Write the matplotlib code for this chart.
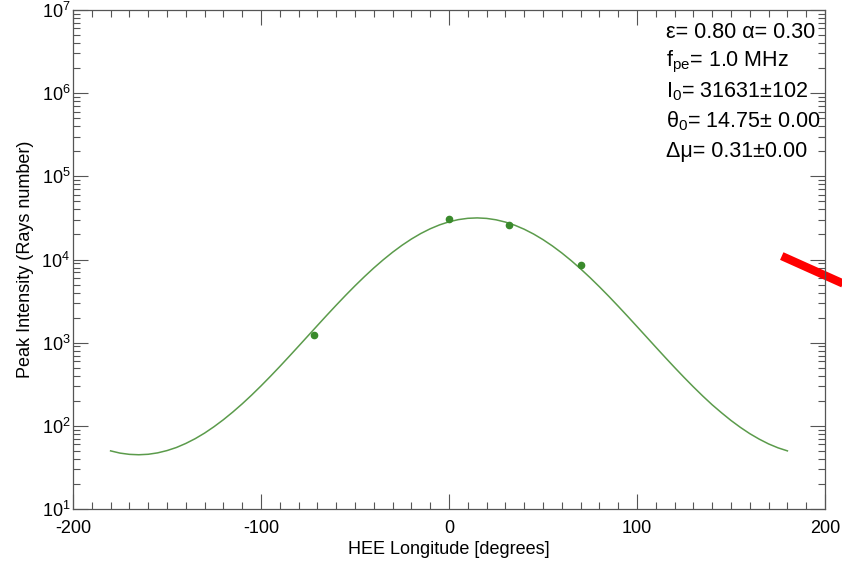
import matplotlib
matplotlib.use("Agg")
import numpy as np
from matplotlib import pyplot as plt
from matplotlib.ticker import MultipleLocator, LogLocator, NullFormatter

plt.rcParams['font.family'] = ['Liberation Sans', 'DejaVu Sans']
plt.rcParams['mathtext.fontset'] = 'custom'
plt.rcParams['mathtext.rm'] = 'Liberation Sans'
plt.rcParams['mathtext.it'] = 'Liberation Sans:italic'
plt.rcParams['mathtext.bf'] = 'Liberation Sans:bold'
plt.rcParams['axes.unicode_minus'] = False

# measured peak intensities
lon_obs = [-72, 0, 32, 70]
peak_obs = [1230, 30500, 25800, 8550]

# fitted curve, every 5 degrees
lon_fit = np.arange(-180, 181, 5)
peak_fit = [50.0, 47.0, 45.4, 44.9, 45.5, 47.3, 50.4, 54.9, 61.4, 70.1,
            81.8, 97.6, 118.5, 146.5, 183.8, 234.1, 301.9, 393.5, 516.9, 683.9,
            907.8, 1208, 1608, 2135, 2822, 3707, 4826, 6215, 7908, 9911,
            12229, 14823, 17625, 20533, 23407, 26083, 28392, 30168, 31277, 31630,
            31198, 30019, 28182, 25828, 23122, 20241, 17337, 14553, 11985, 9694,
            7721, 6063, 4701, 3609, 2745, 2076, 1563, 1175, 883, 665,
            503, 383, 294, 228, 179, 143.3, 116, 95.8, 80.5, 69.2,
            60.6, 54.4, 50.0]

# red pointer at the right edge (partly off the plot)
pointer_x = [177, 215]
pointer_y = [11000, 4530]

fit_text = ["ε= 0.80 α= 0.30",
            r"f$_{\rm pe}$= 1.0 MHz",
            r"I$_{\rm 0}$= 31631±102",
            r"θ$_{\rm 0}$= 14.75± 0.00",
            "Δμ= 0.31±0.00"]

fig = plt.figure(figsize=(8.42, 5.62), dpi=100)
ax = fig.add_axes([73/842, 1-509/562, (825-73)/842, (509-10)/562])

ax.plot(lon_fit, peak_fit, '-', color='#5b9b4b', lw=1.1)
ax.plot(lon_obs, peak_obs, 'o', color='#3a8a2c', ms=4.5)
ax.plot(pointer_x, pointer_y, '-', color='#ff0000', lw=6, clip_on=False,
        solid_capstyle='butt')

ax.set_yscale('log')
ax.set_xlim(-200, 200)
ax.set_ylim(10, 1e7)
ax.xaxis.set_major_locator(MultipleLocator(100))
ax.xaxis.set_minor_locator(MultipleLocator(10))
ax.yaxis.set_major_locator(LogLocator(base=10, numticks=10))
ax.yaxis.set_minor_locator(LogLocator(base=10, subs=np.arange(2, 10), numticks=20))
ax.yaxis.set_minor_formatter(NullFormatter())

ax.tick_params(which='both', direction='in', top=True, right=True,
               color='#555555', width=0.8, labelsize=13)
ax.tick_params(which='major', length=10.5)
ax.tick_params(which='minor', length=5)
ax.tick_params(axis='x', pad=8)
ax.tick_params(axis='y', pad=2)
for s in ax.spines.values():
    s.set_color('#555555')
    s.set_linewidth(0.9)

ax.set_xlabel('HEE Longitude [degrees]', fontsize=13, labelpad=3)
ax.set_ylabel('Peak Intensity (Rays number)', fontsize=13, labelpad=5)

for i, t in enumerate(fit_text):
    fig.text(666/842, 1-(32+29.8*i)/562, t, fontsize=15.5, ha='left', va='center')

fig.savefig('out.png', dpi=100)
